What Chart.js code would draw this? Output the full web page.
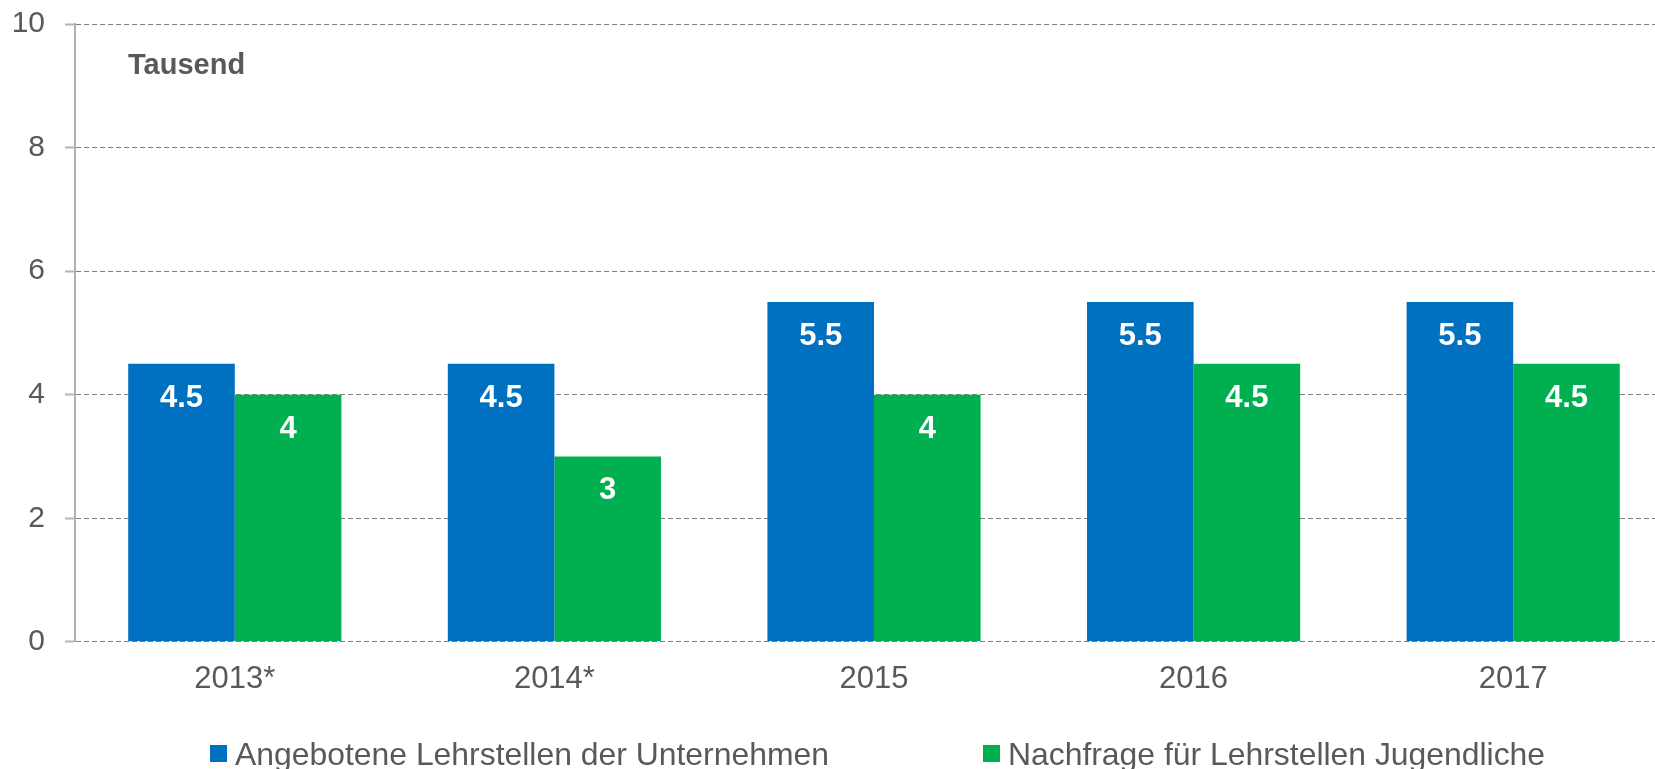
<!DOCTYPE html>
<html>
<head>
<meta charset="utf-8">
<script src="https://cdn.jsdelivr.net/npm/chart.js@4/dist/chart.umd.min.js"></script>
<style>
    html, body { margin: 0; padding: 0; background: #fff; overflow: hidden; }
    #wrap { position: relative; width: 1673px; height: 769px; }
    #legend {
        position: absolute; left: 210px; top: 735px;
        display: flex; gap: 154px;
        font-family: "Liberation Sans", Arial, sans-serif;
        font-size: 31.9px; line-height: 38px; color: #595959;
        white-space: nowrap;
    }
    #legend .item { display: flex; align-items: flex-start; }
    #legend .box { width: 17px; height: 17px; margin-top: 10px; margin-right: 8px; }
</style>
</head>
<body>
<div id="wrap">
    <canvas id="chart"></canvas>
    <div id="legend"></div>
</div>
<script>
// data (thousands)
const years = ['2013*', '2014*', '2015', '2016', '2017'];
const angebot = [4.5, 4.5, 5.5, 5.5, 5.5];
const nachfrage = [4, 3, 4, 4.5, 4.5];
const seriesNames = ['Angebotene Lehrstellen der Unternehmen', 'Nachfrage für Lehrstellen Jugendliche'];
const seriesColors = ['#0070C0', '#00B050'];
const yMax = 10;
const yStep = 2;
const unitLabel = 'Tausend';

const font = '"Liberation Sans", Arial, sans-serif';
const grey = '#595959';

// white value labels inside the top of each bar + unit text
const valueLabels = {
    id: 'valueLabels',
    afterDatasetsDraw: function(chart) {
        const ctx = chart.ctx;
        ctx.save();
        ctx.font = 'bold 31px ' + font;
        ctx.fillStyle = '#ffffff';
        ctx.textAlign = 'center';
        ctx.textBaseline = 'alphabetic';
        chart.data.datasets.forEach(function(ds, i) {
            chart.getDatasetMeta(i).data.forEach(function(bar, j) {
                ctx.fillText(String(ds.data[j]), bar.x, bar.y + 43);
            });
        });
        ctx.font = 'bold 29px ' + font;
        ctx.fillStyle = grey;
        ctx.textAlign = 'left';
        ctx.fillText(unitLabel, chart.chartArea.left + 53, chart.chartArea.top + 50);
        ctx.restore();
    }
};

const config = {
    type: 'bar',
    data: {
        labels: years,
        datasets: [
            {
                label: seriesNames[0],
                backgroundColor: seriesColors[0],
                data: angebot,
            },
            {
                label: seriesNames[1],
                backgroundColor: seriesColors[1],
                data: nachfrage,
            }
        ]
    },
    options: {
        responsive: false,
        animation: false,
        categoryPercentage: 0.667,
        barPercentage: 1.0,
        layout: { padding: { top: 24, right: 0, bottom: 60, left: 0 } },
        plugins: {
            legend: { display: false },
            tooltip: { enabled: false }
        },
        scales: {
            x: {
                grid: { display: false },
                border: { display: false },
                ticks: {
                    color: grey,
                    padding: 11,
                    font: { family: font, size: 31 }
                }
            },
            y: {
                min: 0,
                max: yMax,
                afterFit: function(scale) {
                    scale.width = 75;
                    scale.paddingTop = 0;
                    scale.paddingBottom = 0;
                },
                grid: {
                    color: '#7f7f7f',
                    lineWidth: 1,
                    tickLength: 10,
                    tickColor: '#b5b5b5',
                    tickWidth: 2
                },
                border: { color: '#b0b0b0', width: 2, dash: [5, 3] },
                ticks: {
                    stepSize: yStep,
                    color: grey,
                    padding: 20,
                    font: { family: font, size: 30 }
                }
            }
        }
    },
    plugins: [valueLabels]
};

const canvas = document.getElementById('chart');
canvas.width = 1673;
canvas.height = 769;
canvas.style.width = '1673px';
canvas.style.height = '769px';
window.chart = new Chart(canvas, config);

// legend
const legend = document.getElementById('legend');
seriesNames.forEach(function(name, i) {
    const item = document.createElement('div');
    item.className = 'item';
    const box = document.createElement('span');
    box.className = 'box';
    box.style.background = seriesColors[i];
    const txt = document.createElement('span');
    txt.textContent = name;
    item.appendChild(box);
    item.appendChild(txt);
    legend.appendChild(item);
});
</script>
</body>
</html>
